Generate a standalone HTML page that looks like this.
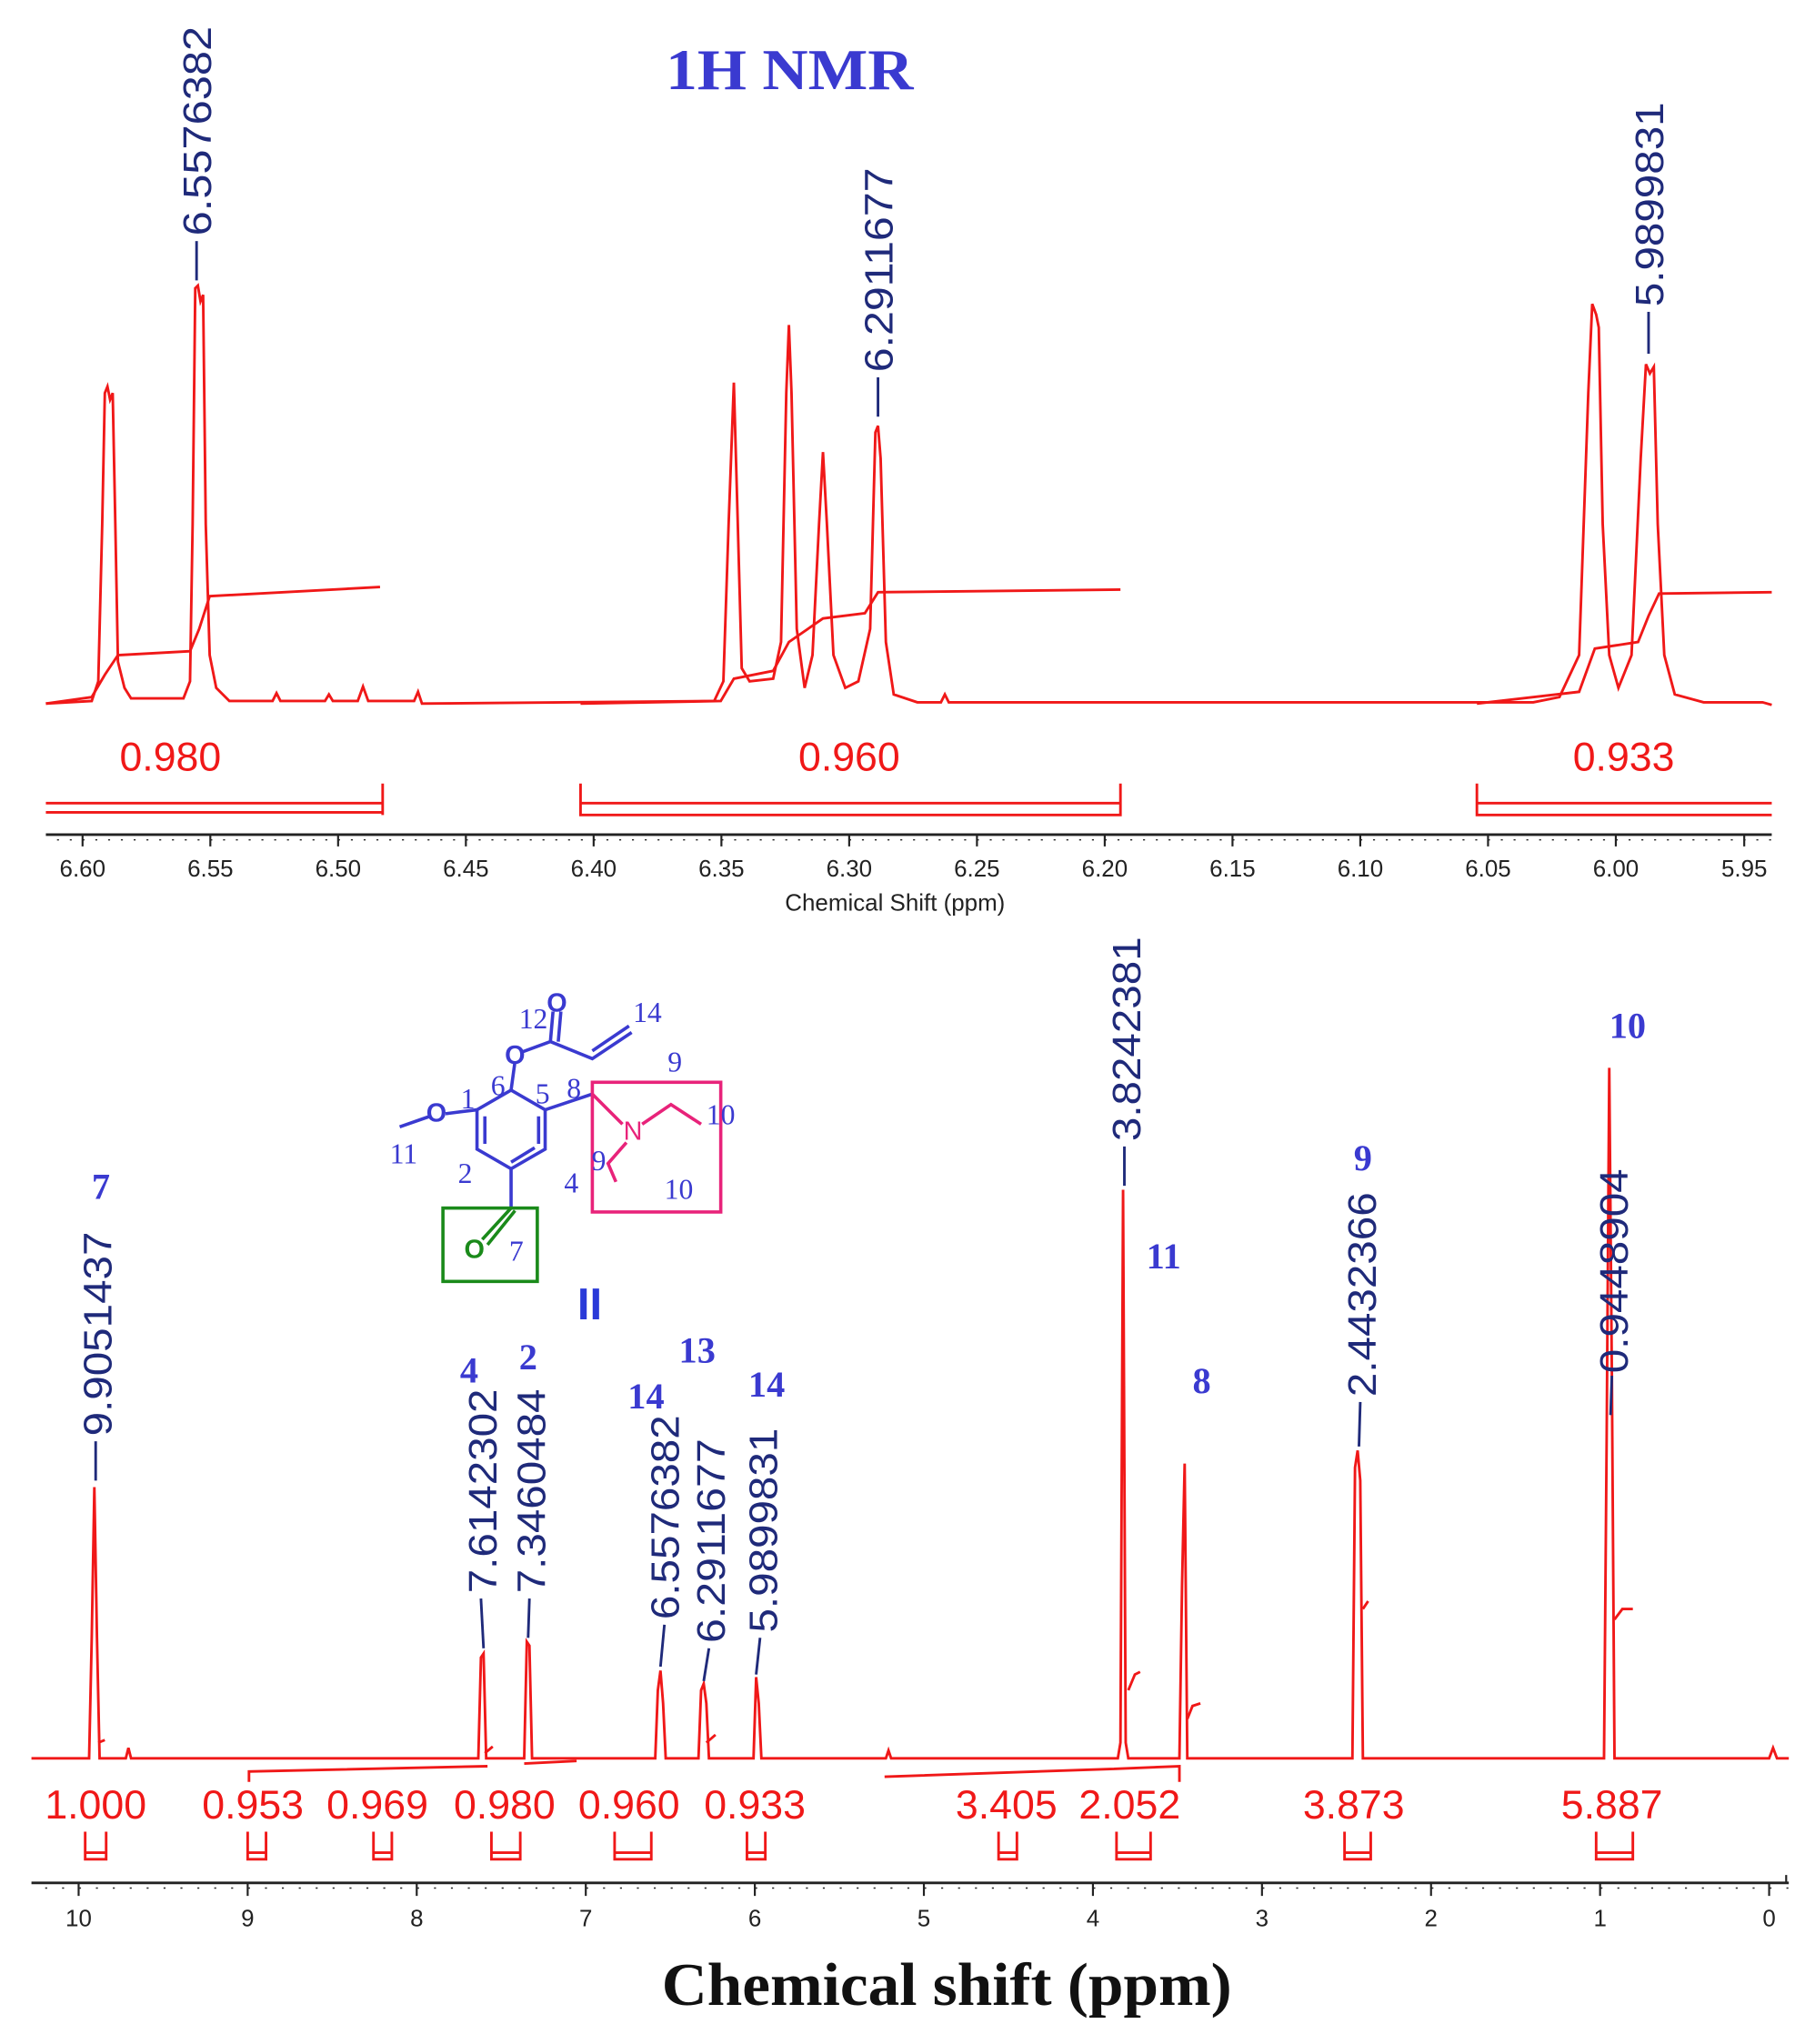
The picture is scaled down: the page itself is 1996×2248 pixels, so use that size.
<!DOCTYPE html>
<html><head><meta charset="utf-8"><style>
html,body{margin:0;padding:0;background:#fff;}
svg{display:block;}
.lb{font-family:"Liberation Sans",sans-serif;font-size:30px;fill:#1f2a7a;}
.it{font-family:"Liberation Sans",sans-serif;font-size:31px;fill:#f01818;}
.bl{font-family:"Liberation Serif",serif;font-weight:bold;font-size:28px;fill:#3a3ad0;}
.tk{font-family:"Liberation Sans",sans-serif;font-size:18px;fill:#222;}
.st{font-family:"Liberation Serif",serif;font-size:22px;fill:#3a3ad0;}
</style></head><body>
<svg width="1996" height="2248" viewBox="0 0 1385 1560" preserveAspectRatio="none" xmlns="http://www.w3.org/2000/svg">
<rect width="1385" height="1560" fill="#fff"/>
<text x="508" y="68" textLength="189" lengthAdjust="spacingAndGlyphs" style="font-family:'Liberation Serif',serif;font-weight:bold;font-size:44px;fill:#3a3ad0">1H NMR</text>
<g fill="none" stroke="#f01818" stroke-width="2">
<path d="M35,537 L70,535 L75,520 L78,400 L80,300 L82,295 L84,305 L86,300 L88,400 L90,505 L95,525 L100,533 L140,533 L145,520 L147,400 L149,220 L151,218 L153,230 L155,225 L157,400 L160,500 L165,525 L175,535 L208,535 L211,529 L214,535 L248,535 L251,530 L254,535 L273,535 L277,524 L281,535 L300,535 L316,535 L319,528 L322,537 L545,535 L552,520 L556,400 L560,292 L563,400 L566,510 L572,520 L590,518 L596,490 L600,300 L602,248 L604,300 L608,480 L614,525 L620,500 L625,400 L628,345 L631,400 L636,500 L645,525 L655,520 L664,480 L668,330 L670,325 L672,350 L676,490 L682,530 L700,536 L718,536 L721,530 L724,536 L1170,536 L1190,532 L1205,500 L1212,300 L1215,232 L1218,240 L1220,250 L1223,400 L1228,500 L1235,525 L1245,500 L1252,350 L1256,278 L1259,285 L1262,280 L1265,400 L1270,500 L1278,530 L1300,536 L1345,536 L1352,538"/>
<path d="M35,537 L70,532 L80,515 L90,500 L145,497 L152,480 L160,455 L290,448"/>
<path d="M443,537 L550,535 L560,518 L590,512 L602,490 L628,472 L660,468 L670,452 L855,450"/>
<path d="M1127,537 L1205,528 L1217,495 L1250,490 L1258,470 L1266,453 L1352,452"/>
<path d="M35,613 H292 M35,620 H292 M292,598 V622 M443,598 V622 H855 V598 M443,613 H855 M1127,598 V622 H1352 M1127,613 H1352"/>
</g>
<text class="it" x="130" y="588" text-anchor="middle">0.980</text>
<text class="it" x="648" y="588" text-anchor="middle">0.960</text>
<text class="it" x="1239" y="588" text-anchor="middle">0.933</text>
<g stroke="#1f2a7a" stroke-width="2">
<line x1="150" y1="184" x2="150" y2="214"/><line x1="670" y1="288" x2="670" y2="318"/><line x1="1258" y1="238" x2="1258" y2="270"/>
</g>
<g class="lb">
<text transform="translate(161,180) rotate(-90)" textLength="160" lengthAdjust="spacingAndGlyphs">6.5576382</text>
<text transform="translate(681,284) rotate(-90)" textLength="156" lengthAdjust="spacingAndGlyphs">6.2911677</text>
<text transform="translate(1269,234) rotate(-90)" textLength="156" lengthAdjust="spacingAndGlyphs">5.9899831</text>
</g>
<g stroke="#222" stroke-width="2"><line x1="35" y1="637" x2="1352" y2="637"/></g>
<path stroke="#222" stroke-width="1.5" d="M63,637v9 M160.5,637v9 M258,637v9 M355.5,637v9 M453,637v9 M550.5,637v9 M648,637v9 M745.5,637v9 M843,637v9 M940.5,637v9 M1038,637v9 M1135.5,637v9 M1233,637v9 M1331,637v9"/>
<path stroke="#222" stroke-width="1" stroke-dasharray="1.5 8.25" d="M43.5,641H1352" />
<g class="tk" text-anchor="middle">
<text x="63" y="669">6.60</text><text x="160.5" y="669">6.55</text><text x="258" y="669">6.50</text><text x="355.5" y="669">6.45</text><text x="453" y="669">6.40</text><text x="550.5" y="669">6.35</text><text x="648" y="669">6.30</text><text x="745.5" y="669">6.25</text><text x="843" y="669">6.20</text><text x="940.5" y="669">6.15</text><text x="1038" y="669">6.10</text><text x="1135.5" y="669">6.05</text><text x="1233" y="669">6.00</text><text x="1331" y="669">5.95</text>
</g>
<text class="tk" x="683" y="695" text-anchor="middle">Chemical Shift (ppm)</text>

<g fill="none" stroke="#f01818" stroke-width="2">
<path d="M24,1342 L68,1342 L70,1250 L72,1135 L74,1250 L76,1342 L96,1342 L98,1334 L100,1342 L365,1342 L367,1265 L369,1262 L371,1342 L400,1342 L402,1253 L404,1256 L406,1342 L500,1342 L502,1290 L504,1275 L506,1300 L508,1342 L533,1342 L535,1290 L537,1285 L539,1300 L541,1342 L575,1342 L577,1280 L579,1300 L581,1342 L676,1342 L678,1336 L680,1342 L853,1342 L855,1330 L857,908 L859,1330 L861,1342 L900,1342 L902,1210 L904,1117 L906,1342 L1032,1342 L1034,1120 L1036,1107 L1038,1130 L1040,1342 L1224,1342 L1226,1100 L1228,815 L1230,1050 L1232,1342 L1350,1342 L1353,1334 L1356,1342 L1365,1342"/>
<path d="M75,1330 L80,1328 M861,1290 L866,1278 L870,1276 M906,1312 L910,1302 L916,1300 M1040,1228 L1044,1222 M1232,1236 L1238,1228 L1246,1228 M370,1338 L376,1333 M539,1330 L546,1324"/>
<path d="M190,1360 V1352 L372,1348 M400,1346 L440,1344 M675,1356 L850,1350 M850,1350 L900,1348 V1360"/>
<path d="M65,1398v22 M81,1398v22 M65,1414h16 M65,1419h16 M189,1398v22 M203,1398v22 M189,1414h14 M189,1419h14 M285,1398v22 M299,1398v22 M285,1414h14 M285,1419h14 M375,1398v22 M397,1398v22 M375,1414h22 M375,1419h22 M469,1398v22 M497,1398v22 M469,1414h28 M469,1419h28 M570,1398v22 M584,1398v22 M570,1414h14 M570,1419h14 M762,1398v22 M776,1398v22 M762,1414h14 M762,1419h14 M852,1398v22 M878,1398v22 M852,1414h26 M852,1419h26 M1026,1398v22 M1046,1398v22 M1026,1414h20 M1026,1419h20 M1218,1398v22 M1246,1398v22 M1218,1414h28 M1218,1419h28"/>
</g>
<g class="it" text-anchor="middle">
<text x="73" y="1388">1.000</text><text x="193" y="1388">0.953</text><text x="288" y="1388">0.969</text><text x="385" y="1388">0.980</text><text x="480" y="1388">0.960</text><text x="576" y="1388">0.933</text><text x="768" y="1388">3.405</text><text x="862" y="1388">2.052</text><text x="1033" y="1388">3.873</text><text x="1230" y="1388">5.887</text>
</g>
<g stroke="#1f2a7a" stroke-width="2">
<line x1="73" y1="1100" x2="73" y2="1130"/><line x1="367" y1="1220" x2="369" y2="1258"/><line x1="404" y1="1220" x2="403" y2="1250"/><line x1="507" y1="1240" x2="504" y2="1272"/><line x1="541" y1="1258" x2="537" y2="1283"/><line x1="580" y1="1250" x2="577" y2="1278"/><line x1="858" y1="875" x2="858" y2="905"/><line x1="1038" y1="1070" x2="1037" y2="1104"/><line x1="1230" y1="1050" x2="1229" y2="1080"/>
</g>
<g class="lb">
<text transform="translate(85,1096) rotate(-90)" textLength="156" lengthAdjust="spacingAndGlyphs">9.9051437</text>
<text transform="translate(379,1216) rotate(-90)" textLength="156" lengthAdjust="spacingAndGlyphs">7.6142302</text>
<text transform="translate(416,1216) rotate(-90)" textLength="156" lengthAdjust="spacingAndGlyphs">7.3460484</text>
<text transform="translate(518,1236) rotate(-90)" textLength="156" lengthAdjust="spacingAndGlyphs">6.5576382</text>
<text transform="translate(553,1254) rotate(-90)" textLength="156" lengthAdjust="spacingAndGlyphs">6.2911677</text>
<text transform="translate(593,1246) rotate(-90)" textLength="156" lengthAdjust="spacingAndGlyphs">5.9899831</text>
<text transform="translate(870,871) rotate(-90)" textLength="156" lengthAdjust="spacingAndGlyphs">3.8242381</text>
<text transform="translate(1050,1066) rotate(-90)" textLength="156" lengthAdjust="spacingAndGlyphs">2.4432366</text>
<text transform="translate(1242,1048) rotate(-90)" textLength="156" lengthAdjust="spacingAndGlyphs">0.9448904</text>
</g>
<g class="bl" text-anchor="middle">
<text x="77" y="915">7</text><text x="358" y="1055">4</text><text x="403" y="1045">2</text><text x="493" y="1075">14</text><text x="532" y="1040">13</text><text x="585" y="1066">14</text><text x="888" y="968">11</text><text x="917" y="1063">8</text><text x="1040" y="893">9</text><text x="1242" y="792">10</text>
</g>
<line x1="24" y1="1437" x2="1365" y2="1437" stroke="#222" stroke-width="2"/>
<path stroke="#222" stroke-width="1.5" d="M60,1437v10 M189,1437v10 M318,1437v10 M447,1437v10 M576,1437v10 M705,1437v10 M834,1437v10 M963,1437v10 M1092,1437v10 M1221,1437v10 M1350,1437v10 M1363,1437v-6"/>
<path stroke="#222" stroke-width="1" stroke-dasharray="1.5 11.4" d="M34.5,1441H1365"/>
<g class="tk" text-anchor="middle">
<text x="60" y="1470">10</text><text x="189" y="1470">9</text><text x="318" y="1470">8</text><text x="447" y="1470">7</text><text x="576" y="1470">6</text><text x="705" y="1470">5</text><text x="834" y="1470">4</text><text x="963" y="1470">3</text><text x="1092" y="1470">2</text><text x="1221" y="1470">1</text><text x="1350" y="1470">0</text>
</g>
<text x="505" y="1530" textLength="435" lengthAdjust="spacingAndGlyphs" style="font-family:'Liberation Serif',serif;font-weight:bold;font-size:46px;fill:#111">Chemical shift (ppm)</text>

<g fill="none" stroke="#3a3ad0" stroke-width="2.5">
<path d="M390,832 L416,847 L416,877 L390,892 L364,877 L364,847 Z M370,852 L370,873 M411,852 L411,873 M390,887 L408,876"/>
<path d="M364,847 L340,850 M328,852 L305,860 M390,832 L393,810 M398,803 L420,795 L452,808 L482,788 M452,802 L480,783 M420,795 L422,772 M426,795 L428,772 M416,847 L452,835 M390,892 L390,922"/>
</g>
<g fill="none" stroke="#e8237a" stroke-width="2.5">
<path d="M452,835 L475,858 M490,858 L512,843 L535,858 M478,872 L464,888 L470,902"/>
<rect x="452" y="826" width="98" height="99"/>
</g>
<g fill="none" stroke="#1a8a1a" stroke-width="2.5">
<path d="M390,922 L368,946 M393,924 L372,950"/>
<rect x="338" y="922" width="72" height="56"/>
</g>
<text x="333" y="856" style="font-family:'Liberation Sans',sans-serif;font-weight:bold;font-size:20px;fill:#3a3ad0" text-anchor="middle">O</text>
<text x="393" y="812" style="font-family:'Liberation Sans',sans-serif;font-weight:bold;font-size:20px;fill:#3a3ad0" text-anchor="middle">O</text>
<text x="425" y="772" style="font-family:'Liberation Sans',sans-serif;font-weight:bold;font-size:20px;fill:#3a3ad0" text-anchor="middle">O</text>
<text x="483" y="870" style="font-family:'Liberation Sans',sans-serif;font-size:20px;fill:#e8237a" text-anchor="middle">N</text>
<text x="362" y="960" style="font-family:'Liberation Sans',sans-serif;font-weight:bold;font-size:20px;fill:#1a8a1a" text-anchor="middle">O</text>
<g class="st" text-anchor="middle">
<text x="494" y="780">14</text><text x="407" y="785">12</text><text x="515" y="818">9</text><text x="380" y="836">6</text><text x="357" y="846">1</text><text x="414" y="842">5</text><text x="438" y="838">8</text><text x="550" y="858">10</text><text x="308" y="888">11</text><text x="355" y="903">2</text><text x="436" y="910">4</text><text x="457" y="893">9</text><text x="518" y="915">10</text><text x="394" y="962">7</text>
</g>
<text x="450" y="1007" text-anchor="middle" style="font-family:'Liberation Sans',sans-serif;font-weight:bold;font-size:34px;fill:#2a3ad8">II</text>
</svg>
</body></html>
